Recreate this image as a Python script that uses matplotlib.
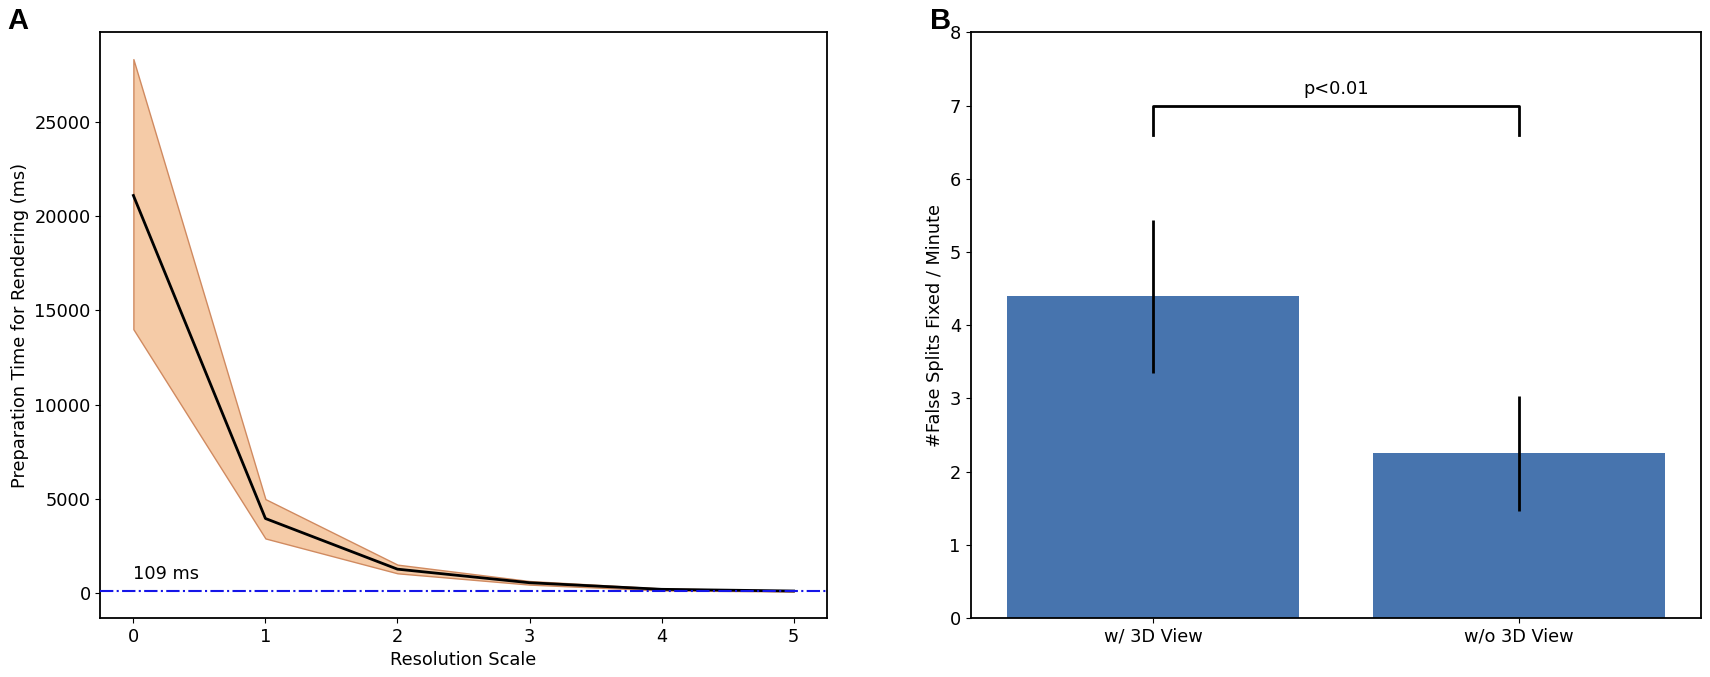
import matplotlib
matplotlib.use("Agg")
import matplotlib.pyplot as plt
import numpy as np

# ---- Panel A data ----
res_scale = [0, 1, 2, 3, 4, 5]
prep_mean = [21100, 3950, 1260, 540, 190, 100]
prep_upper = [28340, 4980, 1500, 630, 235, 120]
prep_lower = [14000, 2890, 1040, 440, 130, 75]
baseline_ms = 109
baseline_label = "109 ms"

# ---- Panel B data ----
conditions = ["w/ 3D View", "w/o 3D View"]
splits_mean = [4.40, 2.25]
splits_low = [3.35, 1.46]
splits_high = [5.44, 3.04]
bracket_y = 7.0
bracket_leg = 6.6
p_text = "p<0.01"

FS = 12.8
plt.rcParams['font.family'] = ['DejaVu Sans']
plt.rcParams['font.size'] = FS

fig = plt.figure(figsize=(17.1, 6.77), dpi=100)
axA = fig.add_axes([0.0587, 0.087, 0.4247, 0.865])
axB = fig.add_axes([0.5676, 0.087, 0.4274, 0.865])

# Panel A
axA.fill_between(res_scale, prep_lower, prep_upper, facecolor='#f5cba7',
                 edgecolor='#d08a60', linewidth=1.0, zorder=2)
axA.plot(res_scale, prep_mean, color='black', linewidth=2.0, zorder=3)
axA.axhline(baseline_ms, color='#1515e8', linestyle='-.', linewidth=1.5, zorder=4)
axA.text(res_scale[0], 500, baseline_label, ha='left', va='bottom', fontsize=FS)
axA.set_xlabel("Resolution Scale", fontsize=FS)
axA.set_ylabel("Preparation Time for Rendering (ms)", fontsize=FS)
axA.set_xticks(res_scale)
axA.set_yticks([0, 5000, 10000, 15000, 20000, 25000])
axA.tick_params(labelsize=FS)

# Panel B
xpos = np.arange(len(conditions))
yerr = [np.array(splits_mean) - np.array(splits_low),
        np.array(splits_high) - np.array(splits_mean)]
axB.bar(xpos, splits_mean, width=0.8, color='#4774ae', zorder=2)
axB.errorbar(xpos, splits_mean, yerr=yerr, fmt='none', ecolor='black',
             elinewidth=2.0, capsize=0, zorder=3)
axB.plot([xpos[0], xpos[0], xpos[1], xpos[1]],
         [bracket_leg, bracket_y, bracket_y, bracket_leg],
         color='black', linewidth=2.0, zorder=3)
axB.text((xpos[0] + xpos[1]) / 2, bracket_y + 0.1, p_text, ha='center',
         va='bottom', fontsize=FS)
axB.set_xticks(xpos)
axB.set_xticklabels(conditions)
axB.set_xlim(-0.5, 1.5)
axB.set_ylim(0, 8)
axB.set_yticks(range(0, 9))
axB.set_ylabel("#False Splits Fixed / Minute", fontsize=FS)
axB.tick_params(labelsize=FS)

for ax in (axA, axB):
    for s in ax.spines.values():
        s.set_linewidth(1.3)

fig.text(0.004, 0.99, "A", fontsize=21, fontweight='bold',
         family=['Liberation Sans'], ha='left', va='top')
fig.text(0.544, 0.99, "B", fontsize=21, fontweight='bold',
         family=['Liberation Sans'], ha='left', va='top')

fig.savefig("out.png", dpi=100)
